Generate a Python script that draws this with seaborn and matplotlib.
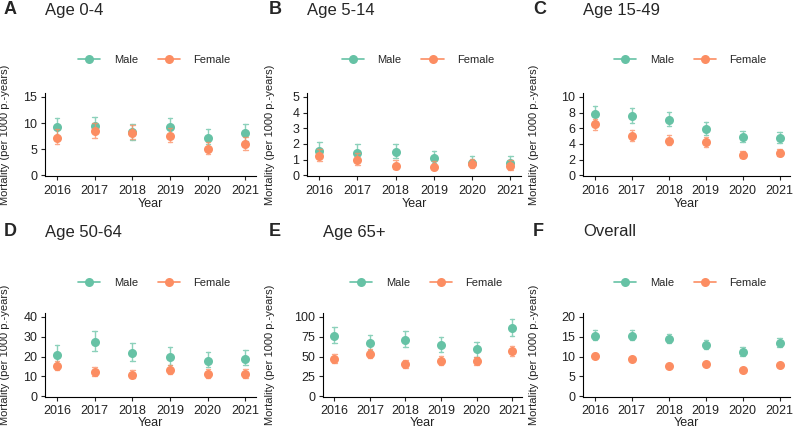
import pandas as pd
import seaborn as sns
import matplotlib.pyplot as plt
from matplotlib.lines import Line2D

years = [2016, 2017, 2018, 2019, 2020, 2021]
sexes = ["Male", "Female"]
palette = {"Male": "#66C2A5", "Female": "#FC8D62"}

# (estimate, lower CI, upper CI) per year, mortality per 1000 person-years
male_0_4 = [(9.2, 7.7, 11.0), (9.4, 8.3, 11.2), (8.2, 6.8, 9.9),
            (9.2, 7.6, 10.9), (7.2, 5.9, 8.8), (8.0, 6.6, 9.8)]
female_0_4 = [(7.1, 6.0, 8.8), (8.5, 7.2, 10.0), (8.1, 6.9, 9.6),
              (7.6, 6.4, 9.1), (5.1, 4.1, 6.4), (6.0, 4.9, 7.4)]

male_5_14 = [(1.55, 1.1, 2.1), (1.45, 1.0, 2.0), (1.5, 1.1, 2.0),
             (1.1, 0.75, 1.55), (0.8, 0.5, 1.25), (0.75, 0.45, 1.2)]
female_5_14 = [(1.2, 0.9, 1.7), (0.95, 0.65, 1.4), (0.6, 0.4, 1.0),
               (0.55, 0.35, 0.9), (0.7, 0.45, 1.05), (0.6, 0.35, 0.95)]

male_15_49 = [(7.8, 6.9, 8.9), (7.6, 6.7, 8.6), (7.1, 6.3, 8.1),
              (5.9, 5.2, 6.8), (4.85, 4.2, 5.6), (4.7, 4.1, 5.5)]
female_15_49 = [(6.5, 5.8, 7.2), (5.0, 4.4, 5.8), (4.4, 3.9, 5.1),
                (4.2, 3.6, 4.9), (2.6, 2.2, 3.1), (2.85, 2.4, 3.3)]

male_50_64 = [(21, 17, 26), (27.5, 23, 33), (22, 18, 27),
              (20, 16, 25), (18, 14.5, 22.5), (19, 15.5, 23.5)]
female_50_64 = [(15, 13, 18), (12, 10, 14.5), (10.8, 9, 13),
                (13, 11, 15.5), (11, 9, 13.5), (11, 9, 13.5)]

male_65 = [(76, 67, 87), (67, 58, 77), (71, 62, 82),
           (65, 56, 75), (59, 50, 69), (86, 76, 97)]
female_65 = [(47, 42, 53), (53, 48, 59), (41, 36, 46),
             (45, 40, 51), (44, 39, 50), (57, 51, 63)]

male_all = [(15.3, 14.1, 16.6), (15.3, 14.1, 16.6), (14.5, 13.4, 15.7),
            (13.0, 11.9, 14.1), (11.2, 10.2, 12.3), (13.4, 12.3, 14.6)]
female_all = [(10.2, 9.6, 10.8), (9.4, 8.9, 10.0), (7.7, 7.2, 8.2),
              (8.2, 7.7, 8.7), (6.7, 6.2, 7.2), (7.8, 7.3, 8.3)]

letters = ["A", "B", "C", "D", "E", "F"]
titles = ["Age 0-4", "Age 5-14", "Age 15-49", "Age 50-64", "Age 65+", "Overall"]
male_sets = [male_0_4, male_5_14, male_15_49, male_50_64, male_65, male_all]
female_sets = [female_0_4, female_5_14, female_15_49, female_50_64, female_65, female_all]
yticks = [[0, 5, 10, 15], [0, 1, 2, 3, 4, 5], [0, 2, 4, 6, 8, 10],
          [0, 10, 20, 30, 40], [0, 25, 50, 75, 100], [0, 5, 10, 15, 20]]

# panel layout in pixels: (panel left, axes left, axes right)
cols = [(0, 45, 256), (265, 307, 521), (529, 583, 790)]
cols_bottom = [(0, 45, 256), (265, 323, 522), (529, 583, 790)]
W, H = 794, 433


def long_frame(male, female):
    rows = []
    for sex, vals in (("Male", male), ("Female", female)):
        for yr, (est, lo, hi) in zip(years, vals):
            for v in (lo, est, hi):
                rows.append({"Year": str(yr), "Sex": sex, "Mortality": v})
    return pd.DataFrame(rows)


sns.set_theme(style="ticks")
plt.rcParams["font.family"] = ["Liberation Sans", "DejaVu Sans"]

fig = plt.figure(figsize=(W / 100, H / 100), dpi=100)

for i in range(6):
    row = i // 3
    pleft, aleft, aright = (cols if row == 0 else cols_bottom)[i % 3]
    atop, abot = (93, 176) if row == 0 else (313, 397)
    ax = fig.add_axes([aleft / W, 1 - abot / H, (aright - aleft) / W, (abot - atop) / H])

    df = long_frame(male_sets[i], female_sets[i])
    sns.pointplot(data=df, x="Year", y="Mortality", hue="Sex", hue_order=sexes,
                  palette=palette, estimator="median", errorbar=("pi", 100),
                  linestyle="none", markers="o", capsize=0.12, dodge=False,
                  err_kws={"linewidth": 1.0, "alpha": 0.75},
                  markersize=6.5, markeredgewidth=0, legend=False, ax=ax)

    top = yticks[i][-1]
    ax.set_ylim(-0.01 * top, top * 1.05)
    ax.set_yticks(yticks[i])
    ax.set_xlim(-0.32, 5.28)
    sns.despine(ax=ax)
    for s in ("left", "bottom"):
        ax.spines[s].set_linewidth(0.8)
        ax.spines[s].set_color("black")
    ax.tick_params(labelsize=9, length=3, width=0.8, pad=2.5, colors="#222222")
    ax.tick_params(axis="x", pad=3.5 if row == 0 else 2.5)
    ax.set_xlabel("Year", fontsize=9, labelpad=1 if row == 0 else 0, color="#222222")
    ax.set_ylabel("Mortality (per 1000 p.-years)", fontsize=8, color="#222222")
    ax.yaxis.set_label_coords((pleft + 10 - aleft) / (aright - aleft), 0.5)

    handles = [Line2D([0], [0], color=palette[s], marker="o", markersize=6.5,
                      linewidth=1.2, markeredgewidth=0) for s in sexes]
    leg_y = 60 if row == 0 else 283
    fig.legend(handles, sexes, loc="center", ncol=2, frameon=False, fontsize=8,
               bbox_to_anchor=((aleft + aright) / 2 / W + 0.005, 1 - leg_y / H),
               handlelength=2.0, columnspacing=1.8, handletextpad=1.2)

    ty = 1 - (10 if row == 0 else 232) / H
    fig.text((pleft + 4) / W, ty, letters[i], fontsize=13, fontweight="bold", va="center")
    fig.text(aleft / W, ty, titles[i], fontsize=12, va="center")

fig.savefig("out.png", dpi=100)
